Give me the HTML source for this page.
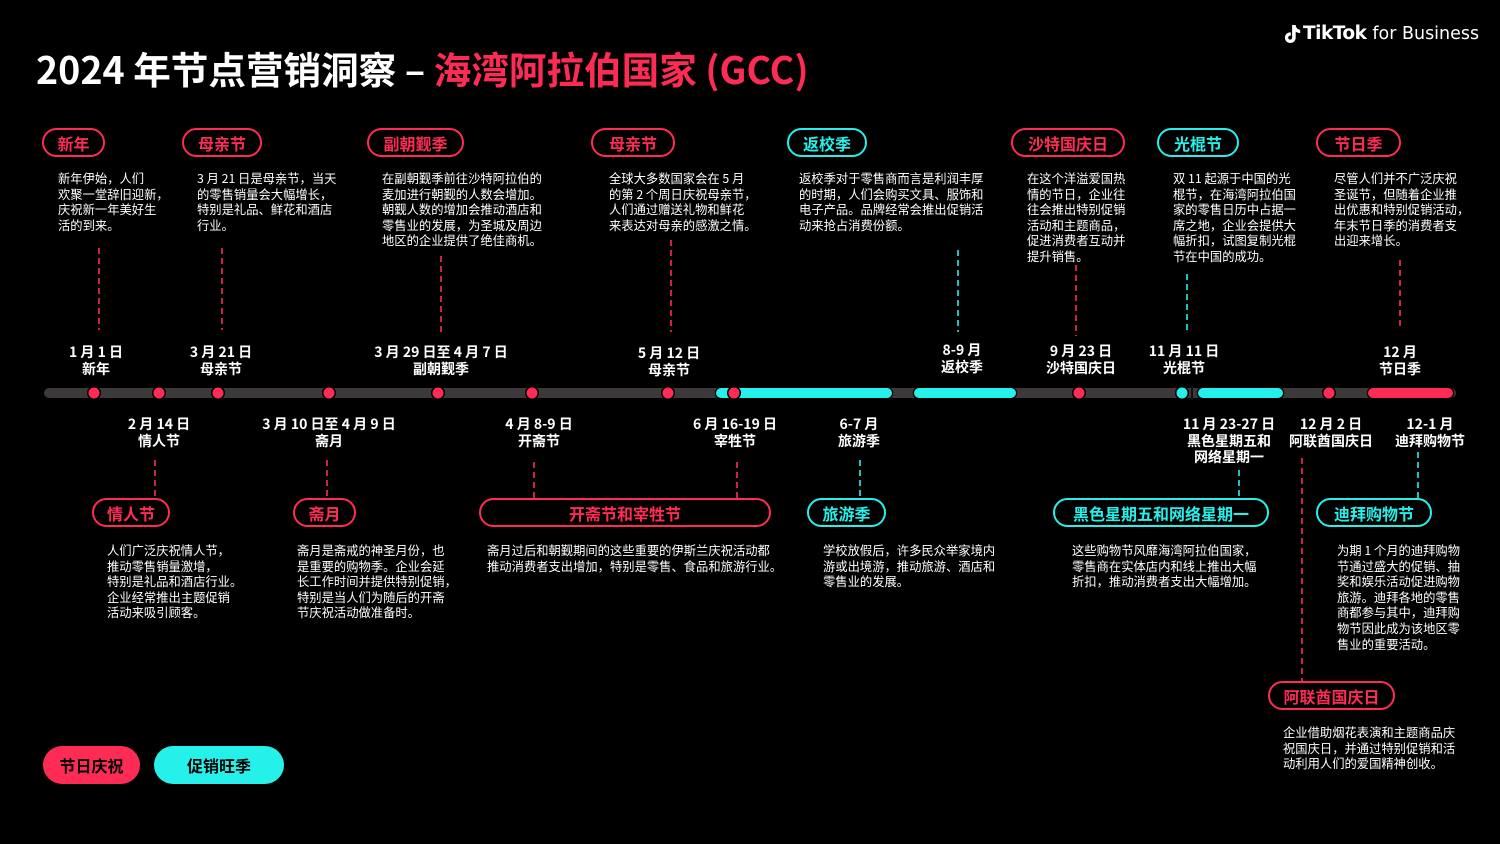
<!DOCTYPE html>
<html><head><meta charset="utf-8">
<style>
*{margin:0;padding:0;box-sizing:border-box}
html,body{width:1500px;height:844px;background:#000;overflow:hidden}
body{position:relative;font-family:"Liberation Sans","Noto Sans CJK SC",sans-serif;color:#fff}
.abs{position:absolute}
.title{left:36px;top:48px;font-size:37.6px;line-height:40px;font-weight:bold;white-space:nowrap;font-family:"Noto Sans CJK SC","Liberation Sans",sans-serif}
.red{color:#fe2c55}
.pill{position:absolute;height:29px;border:2px solid #fe2c55;border-radius:15px;color:#fe2c55;font-weight:bold;font-size:16px;display:flex;align-items:center;justify-content:center;white-space:nowrap;font-family:"Noto Sans CJK SC",sans-serif}
.pill.c{border-color:#25f0ea;color:#25f0ea}
.desc{position:absolute;font-size:12.3px;line-height:15.6px;white-space:nowrap;font-family:"Noto Sans CJK SC",sans-serif;color:#fff}
.lbl{position:absolute;font-size:14px;line-height:16.5px;font-weight:bold;text-align:center;white-space:nowrap;transform:translateX(-50%);font-family:"Noto Sans CJK SC",sans-serif}
.leg{position:absolute;height:38px;border-radius:19px;color:#000;font-weight:bold;font-size:16px;display:flex;align-items:center;justify-content:center;font-family:"Noto Sans CJK SC",sans-serif}
</style></head><body>

<div class="abs title">2024 年节点营销洞察 – <span class="red">海湾阿拉伯国家 (GCC)</span></div>

<!-- TikTok logo -->
<svg class="abs" style="left:1284px;top:24px" width="18" height="20" viewBox="0 0 20 22">
<path d="M9 1h4c0.3 3 2 5 5 5.3v3.6c-2 0-3.6-0.6-5-1.6v6.7c0 3.5-2.8 6-6 6s-6-2.5-6-6c0-3.4 3-6.2 6.6-5.8v3.7c-1.6-0.4-3 0.7-3 2.1 0 1.3 1 2.3 2.3 2.3 1.3 0 2.1-1 2.1-2.3z" fill="#fff"/>
</svg>
<div class="abs" style="left:1303px;top:22px;font-size:18.5px;line-height:24px;white-space:nowrap;font-family:'DejaVu Sans','Liberation Sans',sans-serif"><b style="letter-spacing:-0.5px">TikTok</b> <span style="font-size:17.5px">for Business</span></div>

<!-- top pills -->
<div class="pill" style="left:42px;top:128px;width:63px">新年</div>
<div class="pill" style="left:182px;top:128px;width:80px">母亲节</div>
<div class="pill" style="left:367px;top:128px;width:97px">副朝觐季</div>
<div class="pill" style="left:591px;top:128px;width:84px">母亲节</div>
<div class="pill c" style="left:787px;top:128px;width:80px">返校季</div>
<div class="pill" style="left:1011px;top:128px;width:114px">沙特国庆日</div>
<div class="pill c" style="left:1157px;top:128px;width:82px">光棍节</div>
<div class="pill" style="left:1316px;top:128px;width:85px">节日季</div>

<!-- top descriptions -->
<div class="desc" style="left:58px;top:171px">新年伊始，人们<br>欢聚一堂辞旧迎新，<br>庆祝新一年美好生<br>活的到来。</div>
<div class="desc" style="left:197px;top:171px">3 月 21 日是母亲节，当天<br>的零售销量会大幅增长，<br>特别是礼品、鲜花和酒店<br>行业。</div>
<div class="desc" style="left:382px;top:171px">在副朝觐季前往沙特阿拉伯的<br>麦加进行朝觐的人数会增加。<br>朝觐人数的增加会推动酒店和<br>零售业的发展，为圣城及周边<br>地区的企业提供了绝佳商机。</div>
<div class="desc" style="left:609px;top:171px">全球大多数国家会在 5 月<br>的第 2 个周日庆祝母亲节，<br>人们通过赠送礼物和鲜花<br>来表达对母亲的感激之情。</div>
<div class="desc" style="left:799px;top:171px">返校季对于零售商而言是利润丰厚<br>的时期，人们会购买文具、服饰和<br>电子产品。品牌经常会推出促销活<br>动来抢占消费份额。</div>
<div class="desc" style="left:1027px;top:171px">在这个洋溢爱国热<br>情的节日，企业往<br>往会推出特别促销<br>活动和主题商品，<br>促进消费者互动并<br>提升销售。</div>
<div class="desc" style="left:1173px;top:171px">双 11 起源于中国的光<br>棍节，在海湾阿拉伯国<br>家的零售日历中占据一<br>席之地，企业会提供大<br>幅折扣，试图复制光棍<br>节在中国的成功。</div>
<div class="desc" style="left:1334px;top:171px">尽管人们并不广泛庆祝<br>圣诞节，但随着企业推<br>出优惠和特别促销活动，<br>年末节日季的消费者支<br>出迎来增长。</div>

<!-- timeline svg -->
<svg class="abs" style="left:0;top:0" width="1500" height="844">
<g stroke-width="1.6" stroke-dasharray="6 4" fill="none">
<line x1="99" y1="248" x2="99" y2="330" stroke="#fe2c55"/>
<line x1="222" y1="248" x2="222" y2="330" stroke="#fe2c55"/>
<line x1="441" y1="256" x2="441" y2="332" stroke="#fe2c55"/>
<line x1="671" y1="240" x2="671" y2="332" stroke="#fe2c55"/>
<line x1="958" y1="250" x2="958" y2="332" stroke="#25f0ea"/>
<line x1="1076" y1="265" x2="1076" y2="336" stroke="#fe2c55"/>
<line x1="1187" y1="274" x2="1187" y2="334" stroke="#25f0ea"/>
<line x1="1400" y1="260" x2="1400" y2="328" stroke="#fe2c55"/>
<line x1="155" y1="460" x2="155" y2="498" stroke="#fe2c55"/>
<line x1="327" y1="460" x2="327" y2="498" stroke="#fe2c55"/>
<line x1="534" y1="462" x2="534" y2="498" stroke="#fe2c55"/>
<line x1="737" y1="462" x2="737" y2="498" stroke="#fe2c55"/>
<line x1="860" y1="460" x2="860" y2="498" stroke="#25f0ea"/>
<line x1="1239" y1="470" x2="1239" y2="498" stroke="#25f0ea"/>
<line x1="1302" y1="458" x2="1302" y2="682" stroke="#fe2c55"/>
<line x1="1418" y1="452" x2="1418" y2="498" stroke="#25f0ea"/>
</g>
<rect x="44" y="388" width="1412" height="10" rx="5" fill="#3b3939"/>
<g stroke="#000" stroke-width="2.5" paint-order="stroke">
<rect x="716" y="388" width="176" height="10" rx="5" fill="#25f0ea"/>
<rect x="914" y="388" width="102" height="10" rx="5" fill="#25f0ea"/>
<line x1="1192" y1="386" x2="1192" y2="400" stroke="#111" stroke-width="2"/>
<rect x="1198" y="388" width="85" height="10" rx="5" fill="#25f0ea"/>
<rect x="1368" y="388" width="85" height="10" rx="5" fill="#fe2c55"/>
</g>
<g stroke="#000" stroke-width="3" paint-order="stroke" fill="#fe2c55">
<circle cx="94" cy="393" r="5.5"/>
<circle cx="159" cy="393" r="5.5"/>
<circle cx="218" cy="393" r="5.5"/>
<circle cx="329" cy="393" r="5.5"/>
<circle cx="438" cy="393" r="5.5"/>
<circle cx="532" cy="393" r="5.5"/>
<circle cx="668" cy="393" r="5.5"/>
<circle cx="734" cy="393" r="5.5"/>
<circle cx="1079" cy="393" r="5.5"/>
<circle cx="1182" cy="393" r="5.5" fill="#25f0ea"/>
<circle cx="1329" cy="393" r="5.5"/>
</g>
</svg>

<!-- date labels above -->
<div class="lbl" style="left:96px;top:344px">1 月 1 日<br>新年</div>
<div class="lbl" style="left:221px;top:344px">3 月 21 日<br>母亲节</div>
<div class="lbl" style="left:441px;top:344px">3 月 29 日至 4 月 7 日<br>副朝觐季</div>
<div class="lbl" style="left:669px;top:345px">5 月 12 日<br>母亲节</div>
<div class="lbl" style="left:962px;top:342px">8-9 月<br>返校季</div>
<div class="lbl" style="left:1081px;top:343px">9 月 23 日<br>沙特国庆日</div>
<div class="lbl" style="left:1184px;top:343px">11 月 11 日<br>光棍节</div>
<div class="lbl" style="left:1400px;top:344px">12 月<br>节日季</div>

<!-- date labels below -->
<div class="lbl" style="left:159px;top:416px">2 月 14 日<br>情人节</div>
<div class="lbl" style="left:329px;top:416px">3 月 10 日至 4 月 9 日<br>斋月</div>
<div class="lbl" style="left:539px;top:416px">4 月 8-9 日<br>开斋节</div>
<div class="lbl" style="left:735px;top:416px">6 月 16-19 日<br>宰牲节</div>
<div class="lbl" style="left:859px;top:416px">6-7 月<br>旅游季</div>
<div class="lbl" style="left:1229px;top:416px">11 月 23-27 日<br>黑色星期五和<br>网络星期一</div>
<div class="lbl" style="left:1331px;top:416px">12 月 2 日<br>阿联酋国庆日</div>
<div class="lbl" style="left:1430px;top:416px">12-1 月<br>迪拜购物节</div>

<!-- bottom pills -->
<div class="pill" style="left:92px;top:498px;width:78px">情人节</div>
<div class="pill" style="left:293px;top:498px;width:63px">斋月</div>
<div class="pill" style="left:479px;top:498px;width:292px">开斋节和宰牲节</div>
<div class="pill c" style="left:807px;top:498px;width:79px">旅游季</div>
<div class="pill c" style="left:1053px;top:498px;width:216px">黑色星期五和网络星期一</div>
<div class="pill c" style="left:1316px;top:498px;width:116px">迪拜购物节</div>
<div class="pill" style="left:1268px;top:681px;width:127px">阿联酋国庆日</div>

<!-- bottom descriptions -->
<div class="desc" style="left:107px;top:543px">人们广泛庆祝情人节，<br>推动零售销量激增，<br>特别是礼品和酒店行业。<br>企业经常推出主题促销<br>活动来吸引顾客。</div>
<div class="desc" style="left:297px;top:543px">斋月是斋戒的神圣月份，也<br>是重要的购物季。企业会延<br>长工作时间并提供特别促销，<br>特别是当人们为随后的开斋<br>节庆祝活动做准备时。</div>
<div class="desc" style="left:487px;top:543px">斋月过后和朝觐期间的这些重要的伊斯兰庆祝活动都<br>推动消费者支出增加，特别是零售、食品和旅游行业。</div>
<div class="desc" style="left:823px;top:543px">学校放假后，许多民众举家境内<br>游或出境游，推动旅游、酒店和<br>零售业的发展。</div>
<div class="desc" style="left:1072px;top:543px">这些购物节风靡海湾阿拉伯国家，<br>零售商在实体店内和线上推出大幅<br>折扣，推动消费者支出大幅增加。</div>
<div class="desc" style="left:1337px;top:543px">为期 1 个月的迪拜购物<br>节通过盛大的促销、抽<br>奖和娱乐活动促进购物<br>旅游。迪拜各地的零售<br>商都参与其中，迪拜购<br>物节因此成为该地区零<br>售业的重要活动。</div>
<div class="desc" style="left:1283px;top:725px">企业借助烟花表演和主题商品庆<br>祝国庆日，并通过特别促销和活<br>动利用人们的爱国精神创收。</div>

<!-- legend -->
<div class="leg" style="left:43px;top:746px;width:97px;background:#fe2c55">节日庆祝</div>
<div class="leg" style="left:154px;top:746px;width:130px;background:#25f0ea">促销旺季</div>

</body></html>
